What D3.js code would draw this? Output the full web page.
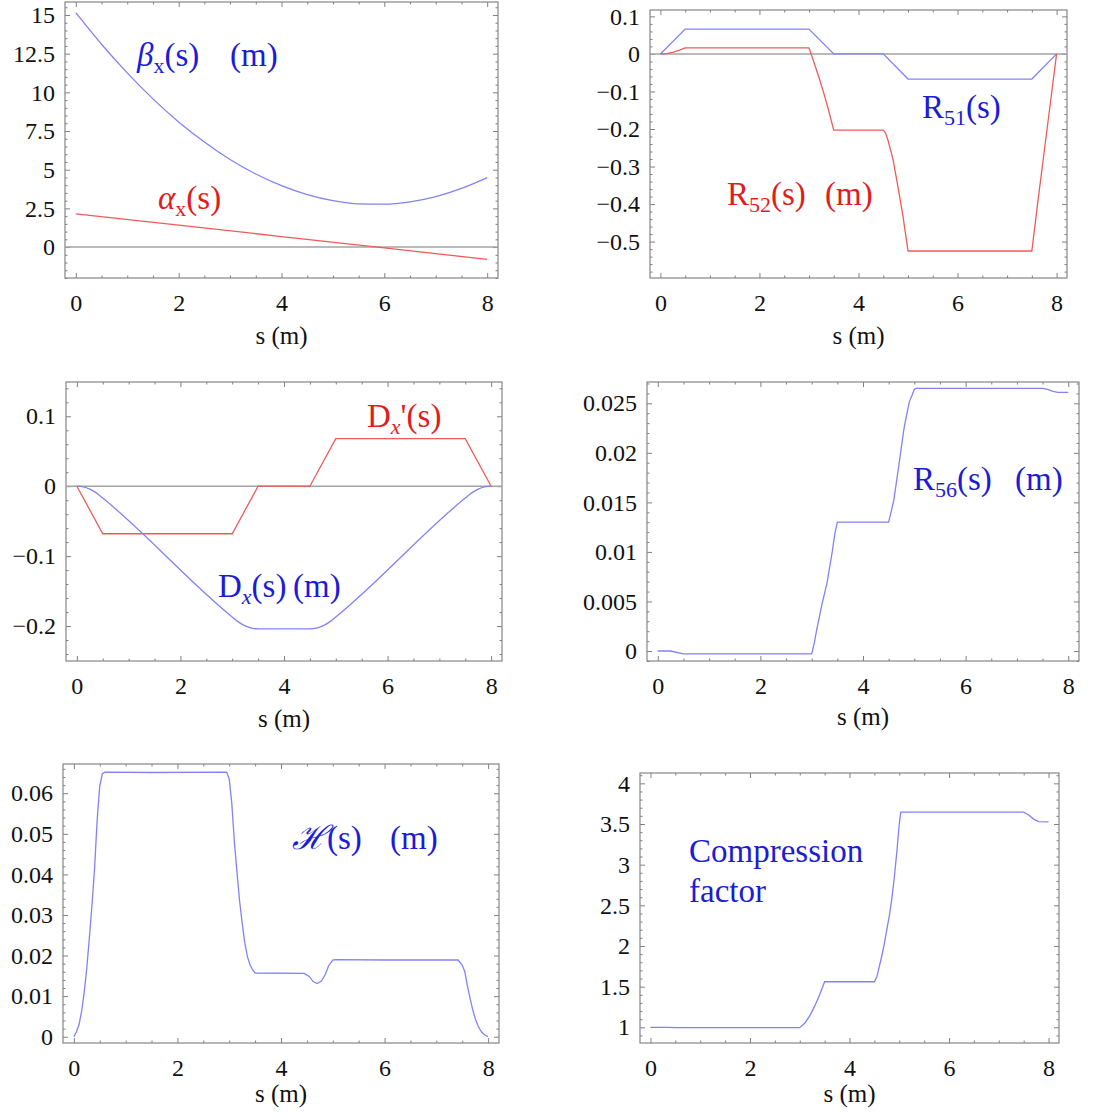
<!DOCTYPE html>
<html><head><meta charset="utf-8">
<script src="https://cdn.jsdelivr.net/npm/d3@7"></script>
<style>
body{margin:0;background:#fff;}
svg{display:block;}
</style></head><body>
<svg id="c" width="1105" height="1120"></svg>
<script>
// ---------- data ----------
// x axis
const xTicks = [0, 2, 4, 6, 8];

// Panel 1: beta_x(s), alpha_x(s)
const sBeta = [0, 0.5, 1, 1.5, 2, 2.5, 3, 3.5, 4, 4.5, 5, 5.5, 6, 6.5, 7, 7.5, 8];
const betaX = [15.15, 13.11, 11.26, 9.58, 8.09, 6.79, 5.66, 4.72, 3.97, 3.39, 3.00, 2.79, 2.77, 2.92, 3.26, 3.79, 4.49];
const sAlpha = [0, 2, 4, 6, 8];
const alphaX = [2.15, 1.42, 0.68, -0.05, -0.80];
const yTicks1 = [0, 2.5, 5, 7.5, 10, 12.5, 15];

// Panel 2: R51(s), R52(s)
const sR51 = [0, 0.5, 3.0, 3.5, 4.5, 5.0, 7.5, 8.0];
const r51 = [0, 0.066, 0.066, 0, 0, -0.067, -0.067, 0];
const sR52 = [0, 0.125, 0.25, 0.375, 0.5, 3.0, 3.1, 3.2, 3.3, 3.4, 3.5, 4.5, 4.55, 4.6, 4.7, 4.8, 4.9, 5.0, 7.5, 7.625, 7.75, 7.875, 8.0];
const r52 = [0, 0.001, 0.004, 0.0095, 0.016, 0.016, -0.022, -0.062, -0.105, -0.152, -0.203, -0.203, -0.212, -0.232, -0.283, -0.357, -0.434, -0.525, -0.525, -0.39, -0.26, -0.13, 0];
const yTicks2 = [-0.5, -0.4, -0.3, -0.2, -0.1, 0, 0.1];

// Panel 3: Dx'(s), Dx(s)
const sDxp = [0, 0.5, 3.0, 3.5, 4.5, 5.0, 7.5, 8.0];
const dxp = [0, -0.068, -0.068, 0, 0, 0.068, 0.068, 0];
const sDx = [0, 0.125, 0.25, 0.375, 0.5, 3.0, 3.125, 3.25, 3.375, 3.5, 4.5, 4.625, 4.75, 4.875, 5.0, 7.5, 7.625, 7.75, 7.875, 8.0];
const dx = [0, -0.001, -0.0043, -0.0096, -0.017, -0.187, -0.1944, -0.1998, -0.2029, -0.204, -0.204, -0.2029, -0.1998, -0.1944, -0.187, -0.017, -0.0096, -0.0043, -0.001, 0];
const yTicks3 = [-0.2, -0.1, 0, 0.1];

// Panel 4: R56(s)
const sR56 = [0, 0.25, 0.5, 3.0, 3.05, 3.1, 3.2, 3.3, 3.4, 3.45, 3.5, 4.5, 4.6, 4.7, 4.8, 4.9, 5.0, 5.03, 7.5, 7.6, 7.7, 7.8, 8.0];
const r56 = [0, 0, -0.0003, -0.0003, 0.0008, 0.0022, 0.0047, 0.0069, 0.0100, 0.0118, 0.0130, 0.0130, 0.0152, 0.0188, 0.0225, 0.0251, 0.0264, 0.0265, 0.0265, 0.0264, 0.0262, 0.0261, 0.0261];
const yTicks4 = [0, 0.005, 0.01, 0.015, 0.02, 0.025];

// Panel 5: H(s)
const sH = [0, 0.05, 0.1, 0.15, 0.2, 0.25, 0.3, 0.35, 0.4, 0.45, 0.5, 0.55, 0.6, 1.5, 2.95, 3.0, 3.05, 3.1, 3.15, 3.2, 3.25, 3.3, 3.35, 3.4, 3.45, 3.5, 4.45, 4.55, 4.62, 4.7, 4.78, 4.85, 4.92, 5.0, 5.05, 6.0, 7.42, 7.5, 7.55, 7.6, 7.65, 7.7, 7.75, 7.8, 7.85, 7.9, 7.95, 8.0];
const hS = [0, 0.0012, 0.003, 0.0063, 0.011, 0.017, 0.0245, 0.0325, 0.0415, 0.0535, 0.0618, 0.0648, 0.0652, 0.0651, 0.0652, 0.0635, 0.0575, 0.048, 0.0405, 0.0335, 0.028, 0.0232, 0.0198, 0.0178, 0.0165, 0.0157, 0.0156, 0.0148, 0.0136, 0.0131, 0.0137, 0.0152, 0.0175, 0.0189, 0.019, 0.0189, 0.0189, 0.0176, 0.016, 0.0125, 0.0095, 0.0068, 0.0045, 0.0028, 0.0016, 0.0008, 0.0003, 0];
const yTicks5 = [0, 0.01, 0.02, 0.03, 0.04, 0.05, 0.06];

// Panel 6: compression factor
const sCf = [0, 0.35, 0.5, 3.0, 3.1, 3.2, 3.3, 3.4, 3.5, 4.5, 4.55, 4.6, 4.65, 4.7, 4.75, 4.8, 4.85, 4.9, 4.95, 5.0, 5.03, 7.5, 7.6, 7.7, 7.8, 8.0];
const cf = [1.0, 1.0, 0.995, 0.995, 1.05, 1.14, 1.26, 1.40, 1.56, 1.56, 1.62, 1.75, 1.88, 2.03, 2.2, 2.37, 2.58, 2.84, 3.15, 3.5, 3.645, 3.645, 3.61, 3.56, 3.53, 3.525];
const yTicks6 = [1, 1.5, 2, 2.5, 3, 3.5, 4];

// ---------- styles ----------
const BLUE_LINE = "#8282f6", RED_LINE = "#f05a5a";
const BLUE_TXT = "#1c1cd6", RED_TXT = "#e21c1c";
const FONT = "'Liberation Serif','Times New Roman',serif";
const LABEL_SIZE = 33, SUB_SIZE = 22, SUB_DY = 7;

const zip = (xs, ys) => xs.map((x, i) => [x, ys[i]]);

const panels = [
  { frame: [65, 2, 498, 278], yDom: [-2.0, 15.84], yTicks: yTicks1, yMinor: 0.5, zero: true, titleDy: 66,
    series: [ {d: zip(sBeta, betaX), c: BLUE_LINE, curve: d3.curveMonotoneX},
              {d: zip(sAlpha, alphaX), c: RED_LINE, curve: d3.curveLinear} ],
    labels: [ {x: 137, y: 66, c: BLUE_TXT, parts: [{t: "β", it: true}, {t: "x", sub: true}, {t: "(s)"}]},
              {x: 230, y: 66, c: BLUE_TXT, parts: [{t: "(m)"}]},
              {x: 158, y: 209, c: RED_TXT, parts: [{t: "α", it: true}, {t: "x", sub: true}, {t: "(s)"}]} ] },
  { frame: [650, 10, 1067, 278], yDom: [-0.597, 0.117], yTicks: yTicks2, yMinor: 0.02, zero: true, titleDy: 66,
    series: [ {d: zip(sR51, r51), c: BLUE_LINE, curve: d3.curveLinear},
              {d: zip(sR52, r52), c: RED_LINE, curve: d3.curveLinear} ],
    labels: [ {x: 922, y: 118, c: BLUE_TXT, parts: [{t: "R"}, {t: "51", sub: true}, {t: "(s)"}]},
              {x: 727, y: 205, c: RED_TXT, parts: [{t: "R"}, {t: "52", sub: true}, {t: "(s)"}]},
              {x: 825, y: 205, c: RED_TXT, parts: [{t: "(m)"}]} ] },
  { frame: [66, 382, 502, 661], yDom: [-0.25, 0.149], yTicks: yTicks3, yMinor: 0.02, zero: true, titleDy: 66,
    series: [ {d: zip(sDxp, dxp), c: RED_LINE, curve: d3.curveLinear},
              {d: zip(sDx, dx), c: BLUE_LINE, curve: d3.curveMonotoneX} ],
    labels: [ {x: 367, y: 427, c: RED_TXT, parts: [{t: "D"}, {t: "x", sub: true, it: true}, {t: "'(s)"}]},
              {x: 218, y: 597, c: BLUE_TXT, parts: [{t: "D"}, {t: "x", sub: true, it: true}, {t: "(s)"}]},
              {x: 293, y: 597, c: BLUE_TXT, parts: [{t: "(m)"}]} ] },
  { frame: [647, 382, 1079, 661], yDom: [-0.00101, 0.02715], yTicks: yTicks4, yMinor: 0.001, zero: false, titleDy: 64,
    series: [ {d: zip(sR56, r56), c: BLUE_LINE, curve: d3.curveLinear} ],
    labels: [ {x: 913, y: 490, c: BLUE_TXT, parts: [{t: "R"}, {t: "56", sub: true}, {t: "(s)"}]},
              {x: 1015, y: 490, c: BLUE_TXT, parts: [{t: "(m)"}]} ] },
  { frame: [63, 764, 499, 1043], yDom: [-0.00155, 0.0672], yTicks: yTicks5, yMinor: 0.002, zero: false, titleDy: 59,
    series: [ {d: zip(sH, hS), c: BLUE_LINE, curve: d3.curveLinear} ],
    labels: [ {x: 292, y: 849, c: BLUE_TXT, parts: [{t: "ℋ", it: true}, {t: "(s)"}]},
              {x: 390, y: 849, c: BLUE_TXT, parts: [{t: "(m)"}]} ] },
  { frame: [640, 773, 1059, 1043], yDom: [0.807, 4.127], yTicks: yTicks6, yMinor: 0.1, zero: false, titleDy: 59,
    series: [ {d: zip(sCf, cf), c: BLUE_LINE, curve: d3.curveLinear} ],
    labels: [ {x: 689, y: 862, c: BLUE_TXT, parts: [{t: "Compression"}]},
              {x: 689, y: 902, c: BLUE_TXT, parts: [{t: "factor"}]} ] }
];

const fmt = d => (d < 0 ? "\u2212" : "") + String(+Math.abs(d).toFixed(6));
function minorTicks(dom, step, major) {
  const out = [];
  for (let k = Math.ceil(dom[0] / step - 1e-9); k * step <= dom[1] + 1e-12; k++) {
    const v = +(k * step).toFixed(9);
    if (!major.some(m => Math.abs(m - v) < step * 1e-3)) out.push(v);
  }
  return out;
}

const svg = d3.select("#c");
panels.forEach((p, pi) => {
  const [L, T, R, B] = p.frame;
  const x = d3.scaleLinear().domain([-0.21, 8.21]).range([L, R]);
  const y = d3.scaleLinear().domain(p.yDom).range([B, T]);
  const g = svg.append("g");
  const xMinor = minorTicks(x.domain(), 0.5, xTicks);
  const yMinor = minorTicks(p.yDom, p.yMinor, p.yTicks);

  function styleAxis(sel) {
    sel.select(".domain").remove();
    sel.attr("font-family", FONT).attr("font-size", 24).attr("color", "#808080");
    sel.selectAll("line").attr("stroke", "#808080").attr("stroke-width", 1);
    sel.selectAll("text").attr("fill", "#111");
  }
  // left
  g.append("g").attr("transform", `translate(${L},0)`)
    .call(d3.axisLeft(y).tickValues(p.yTicks).tickSize(-5).tickSizeOuter(0).tickPadding(10).tickFormat(fmt)).call(styleAxis);
  g.append("g").attr("transform", `translate(${L},0)`)
    .call(d3.axisLeft(y).tickValues(yMinor).tickSize(-2.5).tickSizeOuter(0).tickFormat("")).call(styleAxis);
  // right
  g.append("g").attr("transform", `translate(${R},0)`)
    .call(d3.axisRight(y).tickValues(p.yTicks).tickSize(-5).tickSizeOuter(0).tickFormat("")).call(styleAxis);
  g.append("g").attr("transform", `translate(${R},0)`)
    .call(d3.axisRight(y).tickValues(yMinor).tickSize(-2.5).tickSizeOuter(0).tickFormat("")).call(styleAxis);
  // bottom
  g.append("g").attr("transform", `translate(0,${B})`)
    .call(d3.axisBottom(x).tickValues(xTicks).tickSize(-5).tickSizeOuter(0).tickPadding(16).tickFormat(fmt)).call(styleAxis);
  g.append("g").attr("transform", `translate(0,${B})`)
    .call(d3.axisBottom(x).tickValues(xMinor).tickSize(-2.5).tickSizeOuter(0).tickFormat("")).call(styleAxis);
  // top
  g.append("g").attr("transform", `translate(0,${T})`)
    .call(d3.axisTop(x).tickValues(xTicks).tickSize(-5).tickSizeOuter(0).tickFormat("")).call(styleAxis);
  g.append("g").attr("transform", `translate(0,${T})`)
    .call(d3.axisTop(x).tickValues(xMinor).tickSize(-2.5).tickSizeOuter(0).tickFormat("")).call(styleAxis);

  // frame
  g.append("rect").attr("x", L).attr("y", T).attr("width", R - L).attr("height", B - T)
    .attr("fill", "none").attr("stroke", "#858585").attr("stroke-width", 1.2);

  // clip
  const cid = "clip" + pi;
  g.append("clipPath").attr("id", cid).append("rect")
    .attr("x", L).attr("y", T).attr("width", R - L).attr("height", B - T);
  const plot = g.append("g").attr("clip-path", `url(#${cid})`);

  if (p.zero) {
    plot.append("line").attr("x1", L).attr("x2", R).attr("y1", y(0)).attr("y2", y(0))
      .attr("stroke", "#a3a3a3").attr("stroke-width", 1.5);
  }
  p.series.forEach(s => {
    plot.append("path").datum(s.d)
      .attr("d", d3.line().x(d => x(d[0])).y(d => y(d[1])).curve(s.curve))
      .attr("fill", "none").attr("stroke", s.c).attr("stroke-width", 1.3);
  });

  // x-axis title
  g.append("text").attr("x", (L + R) / 2).attr("y", B + p.titleDy).attr("text-anchor", "middle")
    .attr("font-family", FONT).attr("font-size", 25).attr("fill", "#111").text("s (m)");

  // curve labels
  p.labels.forEach(lb => {
    const t = g.append("text").attr("x", lb.x).attr("y", lb.y).attr("fill", lb.c)
      .attr("font-family", FONT).attr("font-size", LABEL_SIZE);
    let shifted = false;
    lb.parts.forEach(pt => {
      const ts = t.append("tspan").text(pt.t);
      if (pt.it) ts.attr("font-style", "italic");
      if (pt.sub) { ts.attr("font-size", SUB_SIZE); if (!shifted) ts.attr("dy", SUB_DY); shifted = true; }
      else if (shifted) { ts.attr("dy", -SUB_DY); shifted = false; }
    });
  });
});
</script>
</body></html>
